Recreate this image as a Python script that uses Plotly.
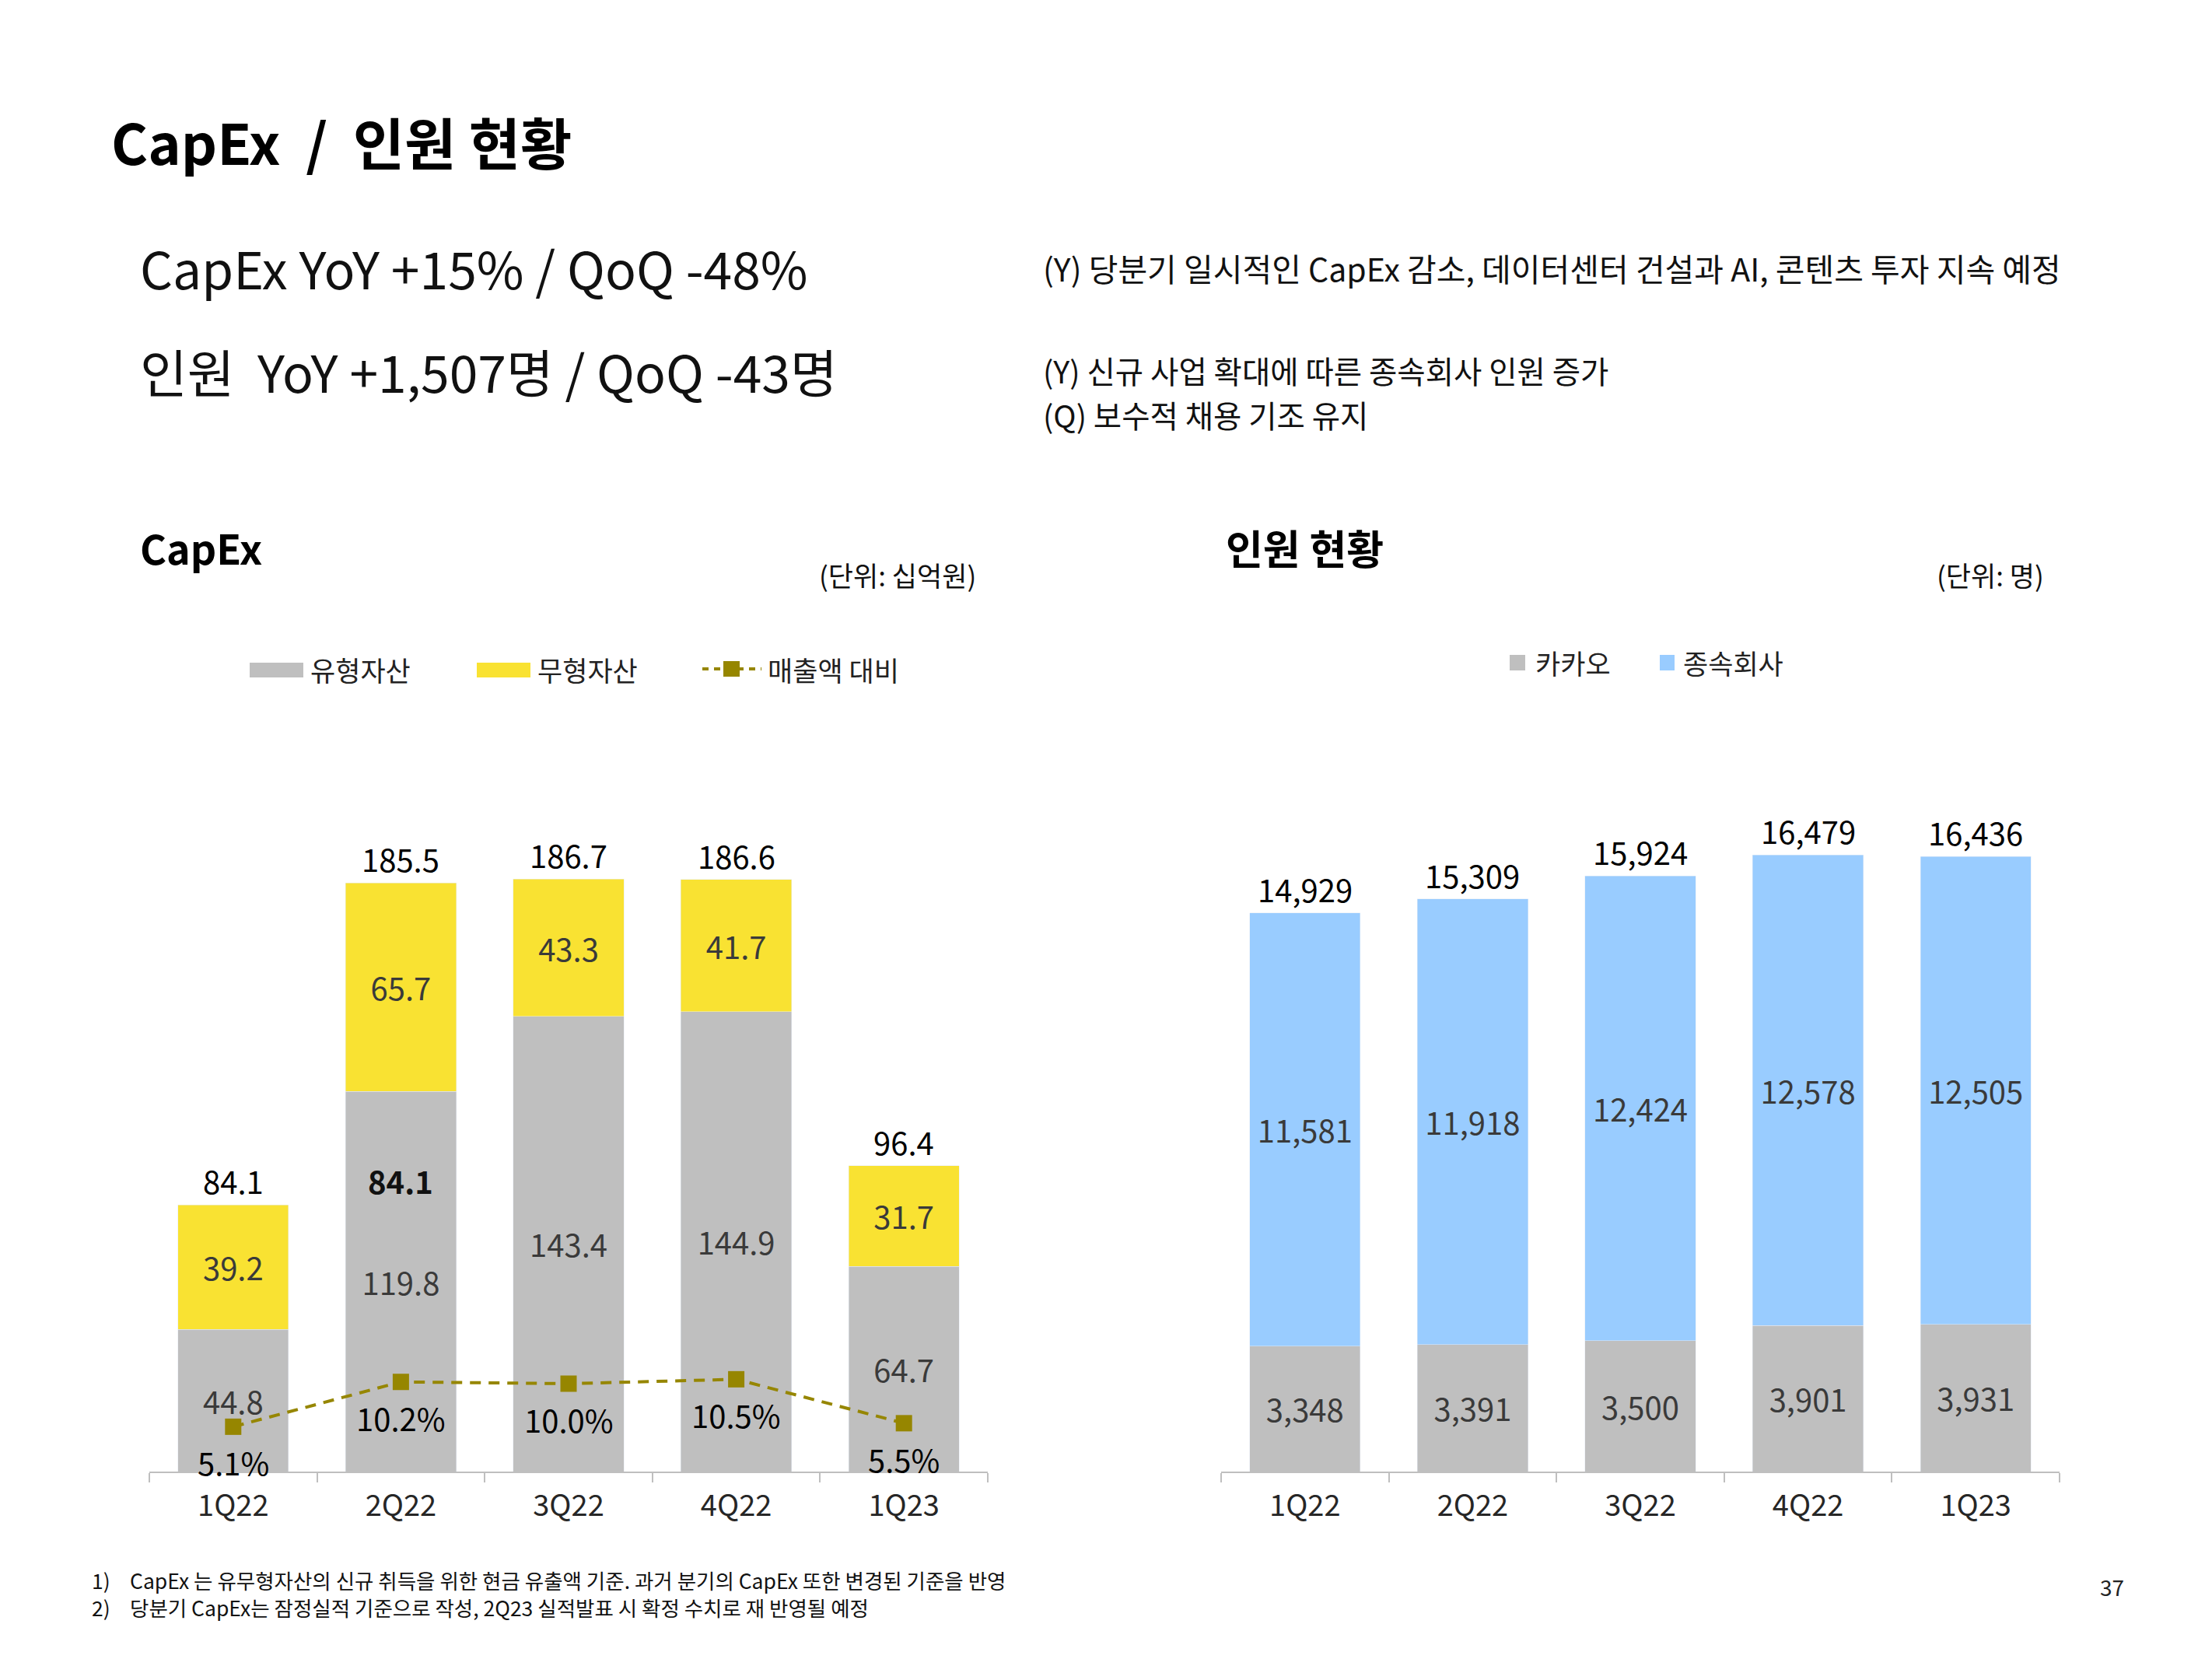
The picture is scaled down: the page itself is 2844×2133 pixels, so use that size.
import plotly.graph_objects as go

W, H = 2844, 2133

quarters = ["1Q22", "2Q22", "3Q22", "4Q22", "1Q23"]
tangible = [44.8, 119.8, 143.4, 144.9, 64.7]
intangible = [39.2, 65.7, 43.3, 41.7, 31.7]
capex_total = [84.1, 185.5, 186.7, 186.6, 96.4]
capex_ratio = [5.1, 10.2, 10.0, 10.5, 5.5]
kakao = [3348, 3391, 3500, 3901, 3931]
subsidiaries = [11581, 11918, 12424, 12578, 12505]
headcount_total = [14929, 15309, 15924, 16479, 16436]

GRAY = "#BFBFBF"
YELLOW = "#F9E232"
BLUE = "#99CCFF"
OLIVE = "#968600"
AXIS = "#BFBFBF"
FONT = "Noto Sans CJK KR, Noto Sans, sans-serif"
INNER = "#3A3A3A"


def px(x):
    return x / W


def py(y):
    return 1 - y / H


BASE, TOP = 1892, 1016
PLOT_H = BASE - TOP

fig = go.Figure()

fig.add_trace(go.Bar(
    x=quarters, y=tangible, name="유형자산", marker_color=GRAY,
    texttemplate="%{y:.1f}", textposition="inside", insidetextanchor="middle",
    textangle=0, textfont=dict(family=FONT, size=40, color=INNER),
    xaxis="x", yaxis="y", hoverinfo="skip", showlegend=False))
fig.add_trace(go.Bar(
    x=quarters, y=intangible, name="무형자산", marker_color=YELLOW,
    texttemplate="%{y:.1f}", textposition="inside", insidetextanchor="middle",
    textangle=0, textfont=dict(family=FONT, size=40, color=INNER),
    xaxis="x", yaxis="y", hoverinfo="skip", showlegend=False))
fig.add_trace(go.Scatter(
    x=quarters, y=capex_ratio, name="매출액 대비", mode="lines+markers",
    line=dict(color=OLIVE, width=4, dash="14px,10px"),
    marker=dict(symbol="square", size=21, color=OLIVE),
    xaxis="x", yaxis="y2", hoverinfo="skip", showlegend=False))

fig.add_trace(go.Bar(
    x=quarters, y=kakao, name="카카오", marker_color=GRAY,
    texttemplate="%{y:,}", textposition="inside", insidetextanchor="middle",
    textangle=0, textfont=dict(family=FONT, size=40, color=INNER),
    xaxis="x2", yaxis="y3", hoverinfo="skip", showlegend=False))
fig.add_trace(go.Bar(
    x=quarters, y=subsidiaries, name="종속회사", marker_color=BLUE,
    texttemplate="%{y:,}", textposition="inside", insidetextanchor="middle",
    textangle=0, textfont=dict(family=FONT, size=40, color=INNER),
    xaxis="x2", yaxis="y3", hoverinfo="skip", showlegend=False))

xaxis_style = dict(
    type="category", showline=True, linecolor=AXIS, linewidth=2,
    ticks="outside", tickson="boundaries", ticklen=12, tickcolor=AXIS,
    tickwidth=2, showgrid=False, zeroline=False, ticklabelstandoff=9,
    tickfont=dict(family=FONT, size=38, color="#262626"))

annotations = []


def txt(x, y, text, size, color="#000000", xanchor="left", bold=False):
    if bold:
        text = "<b>" + text + "</b>"
    annotations.append(dict(
        x=px(x), y=py(y), xref="paper", yref="paper", text=text,
        showarrow=False, xanchor=xanchor, yanchor="middle", align="left",
        font=dict(family=FONT, size=size, color=color)))


# Header texts
txt(141, 181, "CapEx  /  인원 현황", 72, bold=True)
txt(178, 343, "CapEx YoY +15% / QoQ -48%", 66, "#111111")
txt(178, 476, "인원  YoY +1,507명 / QoQ -43명", 66, "#111111")
txt(1339, 344, "(Y) 당분기 일시적인 CapEx 감소, 데이터센터 건설과 AI, 콘텐츠 투자 지속 예정", 41, "#111111")
txt(1339, 475, "(Y) 신규 사업 확대에 따른 종속회사 인원 증가", 39.5, "#111111")
txt(1339, 532, "(Q) 보수적 채용 기조 유지", 39.5, "#111111")

# Section titles & units
txt(178, 703, "CapEx", 52, bold=True)
txt(1574, 703, "인원 현황", 52, bold=True)
txt(1257, 738, "(단위: 십억원)", 35, "#111111", xanchor="right")
txt(2630, 738, "(단위: 명)", 35, "#111111", xanchor="right")

# Legend texts
txt(397, 860, "유형자산", 35, "#222222")
txt(689, 860, "무형자산", 35, "#222222")
txt(985, 860, "매출액 대비", 35, "#222222")
txt(1972, 851, "카카오", 35, "#222222")
txt(2162, 851, "종속회사", 35, "#222222")

# Footnotes & page number
txt(116, 2031, "1)", 26.5, "#111111")
txt(165, 2031, "CapEx 는 유무형자산의 신규 취득을 위한 현금 유출액 기준. 과거 분기의 CapEx 또한 변경된 기준을 반영", 26.5, "#111111")
txt(116, 2066, "2)", 26.5, "#111111")
txt(165, 2066, "당분기 CapEx는 잠정실적 기준으로 작성, 2Q23 실적발표 시 확정 수치로 재 반영될 예정", 26.5, "#111111")
txt(2715, 2040, "37", 28, "#222222", xanchor="center")

# Data-driven labels
for q, v in zip(quarters, capex_total):
    annotations.append(dict(
        x=q, y=v, xref="x", yref="y", text=f"{v:.1f}", showarrow=False,
        yanchor="middle", yshift=31,
        font=dict(family=FONT, size=40, color="#000000")))
# leftover bold label shown in the original inside the 2Q22 column
annotations.append(dict(
    x=quarters[1], y=capex_total[0], xref="x", yref="y",
    text=f"<b>{capex_total[0]:.1f}</b>", showarrow=False,
    yanchor="middle", yshift=31,
    font=dict(family=FONT, size=40, color="#111111")))
for q, v in zip(quarters, capex_ratio):
    annotations.append(dict(
        x=q, y=v, xref="x", yref="y2", text=f"{v:.1f}%", showarrow=False,
        yanchor="middle", yshift=-46,
        font=dict(family=FONT, size=40, color="#000000")))
for q, v in zip(quarters, headcount_total):
    annotations.append(dict(
        x=q, y=v, xref="x2", yref="y3", text=f"{v:,}", showarrow=False,
        yanchor="middle", yshift=31,
        font=dict(family=FONT, size=40, color="#000000")))

# Legend symbols (shapes)
shapes = [
    dict(type="rect", xref="paper", yref="paper", x0=px(321), x1=px(390),
         y0=py(871), y1=py(852), fillcolor=GRAY, line_width=0),
    dict(type="rect", xref="paper", yref="paper", x0=px(613), x1=px(682),
         y0=py(871), y1=py(852), fillcolor=YELLOW, line_width=0),
    dict(type="line", xref="paper", yref="paper", x0=px(903), x1=px(979),
         y0=py(860), y1=py(860), line=dict(color=OLIVE, width=4, dash="8px,7px")),
    dict(type="rect", xref="paper", yref="paper", x0=px(930), x1=px(951),
         y0=py(870), y1=py(850), fillcolor=OLIVE, line_width=0),
    dict(type="rect", xref="paper", yref="paper", x0=px(1941), x1=px(1961),
         y0=py(862), y1=py(842), fillcolor=GRAY, line_width=0),
    dict(type="rect", xref="paper", yref="paper", x0=px(2134), x1=px(2153),
         y0=py(862), y1=py(842), fillcolor=BLUE, line_width=0),
]

fig.update_layout(
    width=W, height=H,
    margin=dict(l=0, r=0, t=0, b=0),
    paper_bgcolor="white", plot_bgcolor="rgba(0,0,0,0)",
    barmode="stack", bargap=0.34,
    font=dict(family=FONT, color="#111111"),
    showlegend=False,
    xaxis=dict(domain=[px(192), px(1270)], anchor="y", **xaxis_style),
    yaxis=dict(domain=[py(BASE), py(TOP)], range=[0, PLOT_H / 4.08],
               visible=False, anchor="x"),
    yaxis2=dict(overlaying="y", range=[0, PLOT_H / 11.3], visible=False,
                anchor="x"),
    xaxis2=dict(domain=[px(1570), px(2648)], anchor="y3", **xaxis_style),
    yaxis3=dict(domain=[py(BASE), py(TOP)], range=[0, PLOT_H / 0.0481],
                visible=False, anchor="x2"),
    annotations=annotations,
    shapes=shapes,
)

fig.write_html("out.html")
